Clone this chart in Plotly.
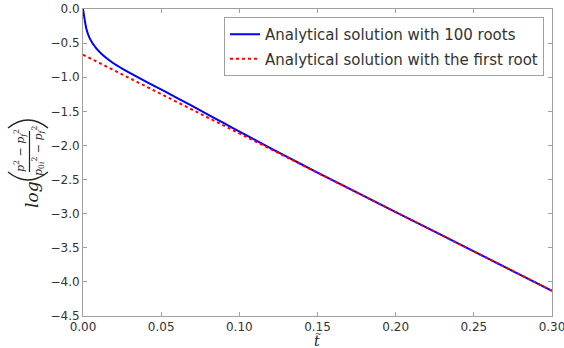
import plotly.graph_objects as go

# Blue: analytical solution with 100 roots
t_blue = [0.0, 0.0011, 0.0021, 0.0043, 0.0085, 0.0128, 0.0192, 0.0256, 0.032, 0.043,
          0.053, 0.064, 0.075, 0.085, 0.095, 0.110, 0.130, 0.150, 0.200, 0.250, 0.300]
y_blue = [0.0, -0.16, -0.285, -0.43, -0.578, -0.678, -0.791, -0.88, -0.962, -1.096,
          -1.216, -1.35, -1.485, -1.61, -1.735, -1.92, -2.161, -2.397, -2.976, -3.553, -4.13]

# Red: analytical solution with the first root (straight line in log scale)
t_red = [0.0, 0.30]
y_red = [-0.67, -4.13]

x_ticks = [0.0, 0.05, 0.10, 0.15, 0.20, 0.25, 0.30]
y_ticks = [0.0, -0.5, -1.0, -1.5, -2.0, -2.5, -3.0, -3.5, -4.0, -4.5]

W, H = 564, 348
ML, MR, MT, MB = 83, 12, 9, 32
PW, PH = W - ML - MR, H - MT - MB


def px(x):
    return (x - ML) / PW


def py(y):
    return (H - MB - y) / PH


fig = go.Figure()
fig.add_trace(go.Scatter(x=t_blue, y=y_blue, mode="lines",
                         line=dict(color="#0000ff", width=2, shape="spline", smoothing=0.7),
                         name="Analytical solution with 100 roots", legendgroup="a"))
fig.add_trace(go.Scatter(x=t_red, y=y_red, mode="lines",
                         line=dict(color="#ff0000", width=2, dash="dot"),
                         name="Analytical solution with the first root", legendgroup="b"))

axis_common = dict(showgrid=False, zeroline=False, showline=True, mirror="ticks",
                   linecolor="#a0a0a0", linewidth=1, ticks="inside", ticklen=4,
                   tickcolor="#a0a0a0", automargin=False,
                   tickfont=dict(family="DejaVu Sans", size=12, color="#333333"))

fig.update_xaxes(range=[0, 0.30], tickvals=x_ticks, tickformat=".2f",
                 ticklabeloverflow="allow", **axis_common)
fig.update_yaxes(range=[-4.5, 0.0], tickvals=y_ticks, tickformat=".1f",
                 ticklabeloverflow="allow", **axis_common)

serif = "DejaVu Serif"
lab = "#222222"
annotations = [
    # x label: t with tilde
    dict(text="<i>t</i>", x=px(317), y=py(341), font=dict(family=serif, size=14, color=lab)),
    dict(text="~", x=px(318), y=py(334.5), font=dict(family=serif, size=8, color=lab)),
    # y label: log( fraction )
    dict(text="<i>log</i>", x=px(32), y=py(195), textangle=-90,
         font=dict(family=serif, size=17, color=lab)),
    dict(text="<i>p</i><sup>2</sup> − <i>p</i><sub><i>f</i></sub><sup>2</sup>",
         x=px(20), y=py(151), textangle=-90, font=dict(family=serif, size=11, color=lab)),
    dict(text="<i>p</i><sub>0<i>i</i></sub><sup>2</sup> − <i>p</i><sub><i>f</i></sub><sup>2</sup>",
         x=px(38), y=py(151), textangle=-90, font=dict(family=serif, size=11, color=lab)),
]
for a in annotations:
    a.update(xref="paper", yref="paper", showarrow=False, xanchor="center", yanchor="middle")


def arc(x0, y0, xc, yc, x1, y1):
    return f"M {px(x0)},{py(y0)} Q {px(xc)},{py(yc)} {px(x1)},{py(y1)}"


shapes = [
    dict(type="line", x0=px(29.5), x1=px(29.5), y0=py(131), y1=py(172),
         line=dict(color=lab, width=1.2)),
    dict(type="path", path=arc(8, 128, 28, 112, 48, 128), line=dict(color=lab, width=1.3)),
    dict(type="path", path=arc(8, 172, 28, 188, 48, 172), line=dict(color=lab, width=1.3)),
]
for s in shapes:
    s.update(xref="paper", yref="paper", layer="above")

fig.update_layout(
    width=W, height=H,
    margin=dict(l=ML, r=MR, t=MT, b=MB),
    plot_bgcolor="white", paper_bgcolor="white",
    showlegend=True,
    annotations=annotations,
    shapes=shapes,
    legend=dict(x=px(544), y=py(17), xanchor="right", yanchor="top",
                bgcolor="white", bordercolor="#a0a0a0", borderwidth=1,
                font=dict(family="DejaVu Sans", size=15, color="#333333"),
                tracegroupgap=2, itemwidth=30),
)

fig.write_html("out.html", config={"displayModeBar": False},
               post_script="document.body.style.margin='0px';document.body.style.overflow='hidden';")
